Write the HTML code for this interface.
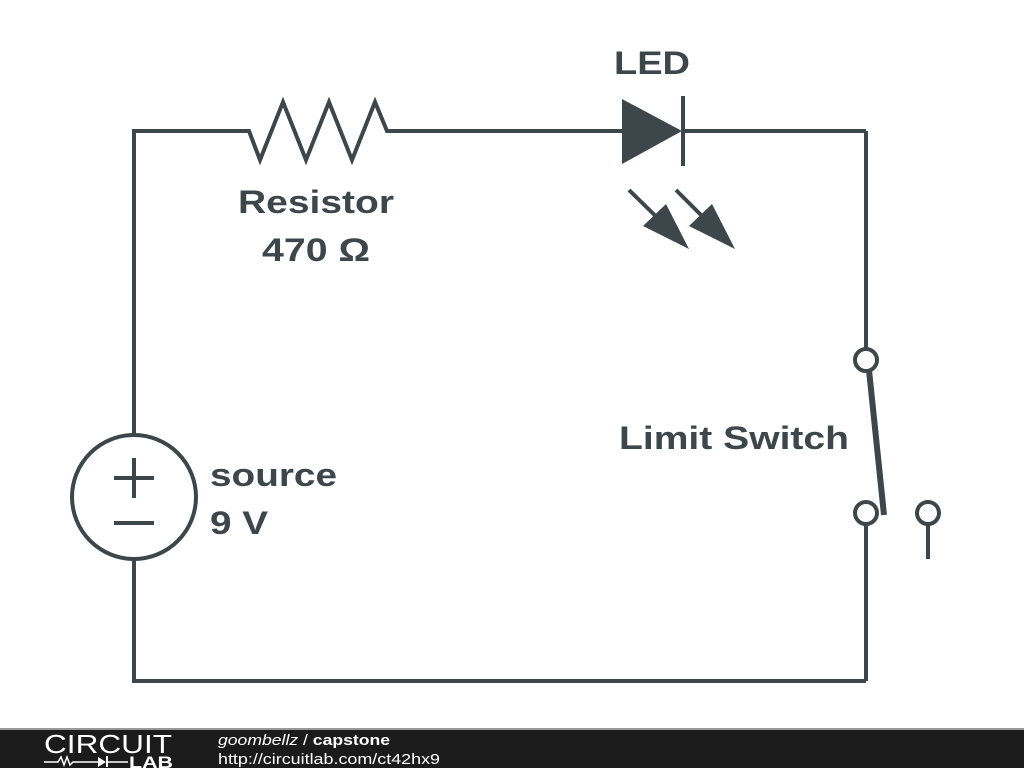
<!DOCTYPE html>
<html><head><style>
html,body{margin:0;padding:0;background:#fff;width:1024px;height:768px;overflow:hidden}
svg text{font-family:"Liberation Sans",sans-serif;font-weight:bold;fill:#3d464b}
</style></head><body>
<svg width="1024" height="768" viewBox="0 0 1024 768" xmlns="http://www.w3.org/2000/svg">
<g stroke="#3d464b" stroke-width="4" fill="none" stroke-linejoin="miter">
<polyline points="134,436 134,131 249,131 260,160 283,102 306,160 329,102 352,160 375,102 387,131 622,131"/>
<line x1="683" y1="131" x2="866" y2="131"/>
<line x1="866" y1="131" x2="866" y2="349"/>
<line x1="866" y1="524" x2="866" y2="681"/>
<polyline points="866,681 134,681 134,559"/>
<circle cx="134" cy="497" r="62"/>
<line x1="114" y1="478" x2="154" y2="478"/>
<line x1="134" y1="458" x2="134" y2="498"/>
<line x1="114" y1="523" x2="154" y2="523"/>
<line x1="683" y1="96" x2="683" y2="166"/>
<circle cx="866" cy="360" r="11"/>
<circle cx="866" cy="513" r="11"/>
<circle cx="928" cy="513" r="11"/>
<line x1="928" y1="524" x2="928" y2="559"/>
<line x1="869" y1="370" x2="884" y2="515" stroke-width="6"/>
<line x1="629" y1="190" x2="672" y2="232"/>
<line x1="676" y1="190" x2="718" y2="232"/>
</g>
<g fill="#3d464b">
<polygon points="622,99 622,164 682,131"/>
<polygon points="643,226 689,249 666,204"/>
<polygon points="689,226 735,249 712,204"/>
</g>
<text x="614" y="74" font-size="32" textLength="76" lengthAdjust="spacingAndGlyphs">LED</text>
<text x="238" y="213" font-size="32" textLength="156" lengthAdjust="spacingAndGlyphs">Resistor</text>
<text x="262" y="261" font-size="32" textLength="108" lengthAdjust="spacingAndGlyphs">470 Ω</text>
<text x="619" y="449" font-size="32" textLength="230" lengthAdjust="spacingAndGlyphs">Limit Switch</text>
<text x="210" y="486" font-size="32" textLength="127" lengthAdjust="spacingAndGlyphs">source</text>
<text x="210" y="534" font-size="32" textLength="58" lengthAdjust="spacingAndGlyphs">9 V</text>
<rect x="0" y="728" width="1024" height="2" fill="#999"/>
<rect x="0" y="730" width="1024" height="38" fill="#1b1b1b"/>
<text x="44" y="753" font-size="26" textLength="128" lengthAdjust="spacingAndGlyphs" style="font-weight:normal;fill:#fff">CIRCUIT</text>
<polyline points="44,762 58,762 61,757 64,765 67,757 70,765 73,762 98,762" stroke="#fff" stroke-width="1.5" fill="none"/>
<polygon points="98,757 98,767 106,762" fill="#fff"/>
<line x1="107" y1="756" x2="107" y2="767" stroke="#fff" stroke-width="2"/>
<line x1="107" y1="762" x2="128" y2="762" stroke="#fff" stroke-width="1.5"/>
<text x="129" y="768" font-size="17" textLength="44" lengthAdjust="spacingAndGlyphs" style="fill:#fff">LAB</text>
<text x="218" y="745" font-size="15" textLength="172" lengthAdjust="spacingAndGlyphs" style="fill:#fff;font-weight:normal;font-style:italic">goombellz <tspan font-style="normal">/</tspan> <tspan font-style="normal" font-weight="bold">capstone</tspan></text>
<text x="218" y="764" font-size="15" textLength="222" lengthAdjust="spacingAndGlyphs" style="fill:#fff;font-weight:normal">http://circuitlab.com/ct42hx9</text>
</svg>
</body></html>
